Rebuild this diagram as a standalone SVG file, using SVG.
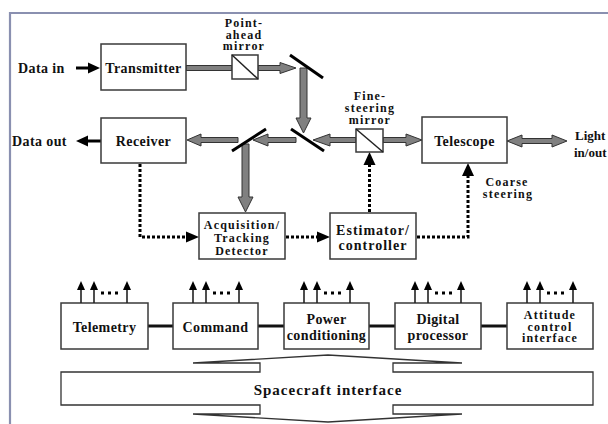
<svg xmlns="http://www.w3.org/2000/svg" width="608" height="424" viewBox="0 0 608 424" font-family="'Liberation Serif', 'DejaVu Serif', serif">
<defs>
<style>
text{font-family:'Liberation Serif','DejaVu Serif',serif;font-weight:bold;fill:#111;}
.m{font-size:14px;letter-spacing:0.4px;text-anchor:middle;}
.l{font-size:14px;letter-spacing:0.4px;}
.s{font-size:12px;letter-spacing:1.2px;text-anchor:middle;}
.e{font-size:14px;letter-spacing:1px;text-anchor:middle;}
.box{fill:#fff;stroke:#3a3a3a;stroke-width:1.5;}
.beam{fill:#808080;stroke:#333;stroke-width:1;stroke-linejoin:miter;}
.mir{stroke:#000;stroke-width:3;fill:none;}
.dot{stroke:#000;stroke-width:3;fill:none;stroke-dasharray:3 2;}
.blk{fill:#000;stroke:none;}
.sa{stroke:#222;stroke-width:1.6;fill:none;}
.bus{stroke:#111;stroke-width:3;fill:none;}
</style>
</defs>
<rect width="608" height="424" fill="#fff"/>
<path d="M10 424 V13 H608" fill="none" stroke="#8a90b0" stroke-width="2.2"/>

<g id="connectors">
<line x1="76" y1="68" x2="90" y2="68" stroke="#000" stroke-width="3"/>
<polygon class="blk" points="100,68 88,62.5 88,73.5"/>
<line x1="101" y1="141" x2="87" y2="141" stroke="#000" stroke-width="3"/>
<polygon class="blk" points="76,141 88,135.5 88,146.5"/>
<rect class="beam" x="186" y="65.5" width="46" height="5"/>
<polygon class="beam" points="258,65.5 280,65.5 280,62.5 296,68 280,73.5 280,70.5 258,70.5"/>
<polygon class="beam" points="300,68 307,68 307,118 311,118 303.5,133 296,118 300,118"/>
<polygon class="beam" points="356,137.5 330,137.5 330,134 313,140 330,146 330,142.5 356,142.5"/>
<polygon class="beam" points="296,137.5 268,137.5 268,134 253,140 268,146 268,142.5 296,142.5"/>
<polygon class="beam" points="238,137.5 201,137.5 201,134 187,140 201,146 201,142.5 238,142.5"/>
<polygon class="beam" points="242,144 249,144 249,197 253,197 245.5,212 238,197 242,197"/>
<polygon class="beam" points="383,137.5 406,137.5 406,134 422,140 406,146 406,142.5 383,142.5"/>
<polygon class="beam" points="507,141 522,135 522,138.5 552,138.5 552,135 567,141 552,147 552,143.5 522,143.5 522,147"/>
<path class="dot" d="M140 164 V237 H187"/>
<polygon class="blk" points="199,237 186,231.5 186,242.5"/>
<path class="dot" d="M286 237 H318"/>
<polygon class="blk" points="330,237 317,231.5 317,242.5"/>
<path class="dot" d="M369.5 212 V165"/>
<polygon class="blk" points="369.5,152 363.5,165 375.5,165"/>
<path class="dot" d="M417 237 H468 V175"/>
<polygon class="blk" points="468,163 462,176 474,176"/>
<line class="bus" x1="148" y1="326" x2="173" y2="326"/>
<line class="bus" x1="258" y1="326" x2="284" y2="326"/>
<line class="bus" x1="369" y1="326" x2="395" y2="326"/>
<line class="bus" x1="481" y1="326" x2="507" y2="326"/>
</g>

<g id="mirrors">
<line class="mir" x1="290" y1="55" x2="323" y2="78"/>
<line class="mir" x1="291" y1="129" x2="324" y2="151"/>
<line class="mir" x1="232" y1="151" x2="266" y2="129"/>
</g>

<g id="point-ahead-mirror">
<rect class="box" x="232" y="55" width="26" height="24"/>
<line x1="232" y1="55" x2="258" y2="79" stroke="#222" stroke-width="1.5"/>
<text class="s" x="244" y="27">Point-</text>
<text class="s" x="244" y="38.5">ahead</text>
<text class="s" x="244" y="50">mirror</text>
</g>

<g id="fine-steering-mirror">
<rect class="box" x="356" y="129" width="27" height="23"/>
<line x1="356" y1="129" x2="383" y2="152" stroke="#222" stroke-width="1.5"/>
<text class="s" x="370" y="100">Fine-</text>
<text class="s" x="370" y="112">steering</text>
<text class="s" x="370" y="123.5">mirror</text>
</g>

<g id="data-in"><text class="l" x="18" y="73">Data in</text></g>
<g id="data-out"><text class="l" x="12" y="146">Data out</text></g>

<g id="transmitter">
<rect class="box" x="101" y="44" width="85" height="46"/>
<text class="m" x="143.5" y="73">Transmitter</text>
</g>
<g id="receiver">
<rect class="box" x="101" y="118" width="85" height="45"/>
<text class="m" x="143.5" y="146">Receiver</text>
</g>
<g id="telescope">
<rect class="box" x="422" y="117" width="85" height="46"/>
<text class="m" x="464.5" y="146">Telescope</text>
</g>
<g id="light">
<text x="575" y="140" style="font-size:13px">Light</text>
<text x="574" y="157" style="font-size:13px">in/out</text>
</g>
<g id="coarse-steering">
<text class="s" x="507" y="186">Coarse</text>
<text class="s" x="508" y="197.5">steering</text>
</g>
<g id="acquisition">
<rect class="box" x="199" y="213" width="86" height="46"/>
<text class="s" x="242" y="228.5">Acquisition/</text>
<text class="s" x="242" y="241.5">Tracking</text>
<text class="s" x="242" y="254.5">Detector</text>
</g>
<g id="estimator">
<rect class="box" x="330" y="213" width="86" height="46"/>
<text class="e" x="373" y="234.5">Estimator/</text>
<text class="e" x="373" y="249.5">controller</text>
</g>

<g id="telemetry">
<rect class="box" x="61" y="303" width="87" height="46"/>
<text class="m" x="104.5" y="331.5">Telemetry</text>
<g transform="translate(61,0)">
<line class="sa" x1="20" y1="303" x2="20" y2="289"/><polygon class="blk" points="20,281 16,290 24,290"/>
<line class="sa" x1="33" y1="303" x2="33" y2="289"/><polygon class="blk" points="33,281 29,290 37,290"/>
<line class="sa" x1="66" y1="303" x2="66" y2="289"/><polygon class="blk" points="66,281 62,290 70,290"/>
<rect class="blk" x="40" y="291.5" width="3" height="3"/><rect class="blk" x="47" y="291.5" width="3" height="3"/><rect class="blk" x="54" y="291.5" width="3" height="3"/>
</g>
</g>
<g id="command">
<rect class="box" x="173" y="303" width="85" height="46"/>
<text class="m" x="215.5" y="331.5">Command</text>
<g transform="translate(173,0)">
<line class="sa" x1="20" y1="303" x2="20" y2="289"/><polygon class="blk" points="20,281 16,290 24,290"/>
<line class="sa" x1="33" y1="303" x2="33" y2="289"/><polygon class="blk" points="33,281 29,290 37,290"/>
<line class="sa" x1="66" y1="303" x2="66" y2="289"/><polygon class="blk" points="66,281 62,290 70,290"/>
<rect class="blk" x="40" y="291.5" width="3" height="3"/><rect class="blk" x="47" y="291.5" width="3" height="3"/><rect class="blk" x="54" y="291.5" width="3" height="3"/>
</g>
</g>
<g id="power-conditioning">
<rect class="box" x="284" y="303" width="85" height="46"/>
<text class="m" x="326.5" y="323.5">Power</text>
<text class="m" x="326.5" y="339.5">conditioning</text>
<g transform="translate(284,0)">
<line class="sa" x1="20" y1="303" x2="20" y2="289"/><polygon class="blk" points="20,281 16,290 24,290"/>
<line class="sa" x1="33" y1="303" x2="33" y2="289"/><polygon class="blk" points="33,281 29,290 37,290"/>
<line class="sa" x1="66" y1="303" x2="66" y2="289"/><polygon class="blk" points="66,281 62,290 70,290"/>
<rect class="blk" x="40" y="291.5" width="3" height="3"/><rect class="blk" x="47" y="291.5" width="3" height="3"/><rect class="blk" x="54" y="291.5" width="3" height="3"/>
</g>
</g>
<g id="digital-processor">
<rect class="box" x="395" y="303" width="86" height="46"/>
<text class="m" x="438" y="323.5">Digital</text>
<text class="m" x="438" y="339.5">processor</text>
<g transform="translate(395,0)">
<line class="sa" x1="20" y1="303" x2="20" y2="289"/><polygon class="blk" points="20,281 16,290 24,290"/>
<line class="sa" x1="33" y1="303" x2="33" y2="289"/><polygon class="blk" points="33,281 29,290 37,290"/>
<line class="sa" x1="66" y1="303" x2="66" y2="289"/><polygon class="blk" points="66,281 62,290 70,290"/>
<rect class="blk" x="40" y="291.5" width="3" height="3"/><rect class="blk" x="47" y="291.5" width="3" height="3"/><rect class="blk" x="54" y="291.5" width="3" height="3"/>
</g>
</g>
<g id="attitude-control-interface">
<rect class="box" x="507" y="303" width="86" height="46"/>
<text class="s" x="550" y="319">Attitude</text>
<text class="s" x="550" y="330.5">control</text>
<text class="s" x="550" y="342">interface</text>
<g transform="translate(507,0)">
<line class="sa" x1="20" y1="303" x2="20" y2="289"/><polygon class="blk" points="20,281 16,290 24,290"/>
<line class="sa" x1="33" y1="303" x2="33" y2="289"/><polygon class="blk" points="33,281 29,290 37,290"/>
<line class="sa" x1="66" y1="303" x2="66" y2="289"/><polygon class="blk" points="66,281 62,290 70,290"/>
<rect class="blk" x="40" y="291.5" width="3" height="3"/><rect class="blk" x="47" y="291.5" width="3" height="3"/><rect class="blk" x="54" y="291.5" width="3" height="3"/>
</g>
</g>

<g id="spacecraft-interface">
<polygon points="61,372 260,372 260,363 193,363 328,355 462,363 393,363 393,372 593,372 593,405 393,405 393,414 462,414 328,422 193,414 260,414 260,405 61,405" fill="#fff" stroke="#333" stroke-width="1.3" stroke-linejoin="miter"/>
<text x="328" y="395" style="font-size:15px;letter-spacing:1px;text-anchor:middle">Spacecraft interface</text>
</g>
</svg>
